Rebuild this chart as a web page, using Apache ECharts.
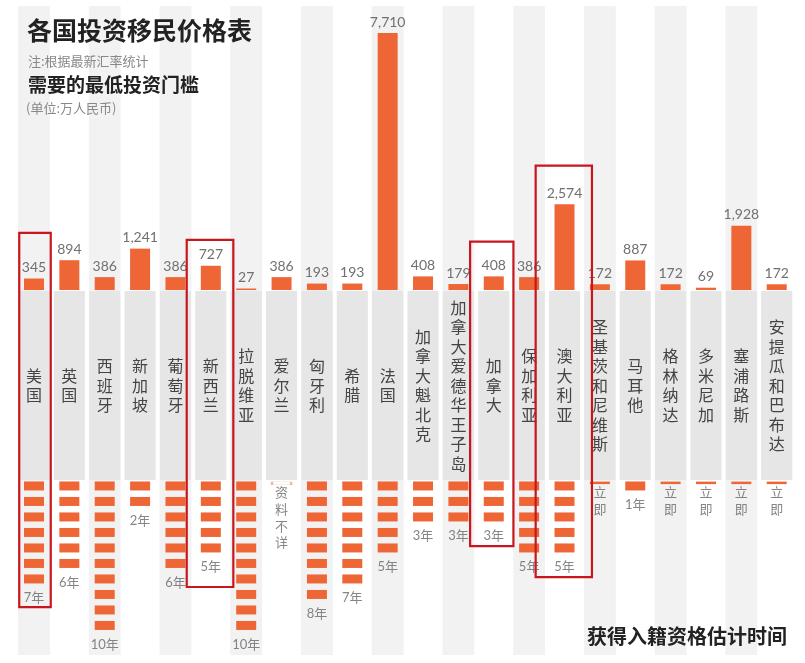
<!DOCTYPE html>
<html>
<head>
<meta charset="utf-8">
<script src="https://cdn.jsdelivr.net/npm/echarts@6/dist/echarts.min.js"></script>
<style>
html,body{margin:0;padding:0;background:#fff}
#main{width:805px;height:663px}
</style>
</head>
<body>
<div id="main"></div>
<script>
// 国家 / 最低投资门槛(万人民币) / 入籍年限(0=立即, null=资料不详)
var countries = ['美国','英国','西班牙','新加坡','葡萄牙','新西兰','拉脱维亚','爱尔兰','匈牙利','希腊','法国',
  '加拿大魁北克','加拿大爱德华王子岛','加拿大','保加利亚','澳大利亚','圣基茨和尼维斯','马耳他','格林纳达','多米尼加','塞浦路斯','安提瓜和巴布达'];
var investment = [345,894,386,1241,386,727,27,386,193,193,7710,408,179,408,386,2574,172,887,172,69,1928,172];
var years = [7,6,10,2,6,5,10,null,8,7,5,3,3,3,5,5,0,1,0,0,0,0];
var highlights = ['美国','新西兰','加拿大','澳大利亚'];

var ORANGE = '#ee6636';
var CJK = "'Noto Sans CJK SC', sans-serif";
var NUM = "Lato, 'Noto Sans CJK SC', sans-serif";
var YEAR_UNIT = 15.5;   // px per year in the lower grid
var YEAR_MAX = 11;

var chart = echarts.init(document.getElementById('main'));

function fmt(v) {
  return String(v).replace(/\B(?=(\d{3})+(?!\d))/g, ',');
}
function vertical(s) {
  return s.split('').join('\n');
}

// 背景条纹, 隔列
var stripeData = countries.map(function (c, i) { return i % 2 === 0 ? 1 : '-'; });

// 年限方块
var blockData = [];
var instantData = [];
var unknownData = [];
var yearLabelData = [];
years.forEach(function (y, i) {
  if (y === null) {
    unknownData.push([i, 0.15]);
    yearLabelData.push({ value: [i, 0.23 + 4 * 16.7 / 2 / YEAR_UNIT], txt: vertical('资料不详') });
  } else if (y === 0) {
    instantData.push([i, 0.12]);
    yearLabelData.push({ value: [i, 0.23 + 2 * 16.7 / 2 / YEAR_UNIT], txt: vertical('立即') });
  } else {
    for (var k = 0; k < y; k++) blockData.push([i, k + 0.32]);
    yearLabelData.push({ value: [i, y + 0.55], txt: y + '年' });
  }
});

var gridLeft = 16.3, gridRight = 10.6;
function catAxis(idx) {
  return { type: 'category', gridIndex: idx, data: countries, show: false };
}

var option = {
  animation: false,
  title: [
    { text: '各国投资移民价格表', left: 22, top: 13,
      textStyle: { fontFamily: CJK, fontSize: 25, fontWeight: 'bold', color: '#222' } },
    { text: '注:根据最新汇率统计', left: 23, top: 50,
      textStyle: { fontFamily: CJK, fontSize: 13, fontWeight: 'normal', color: '#888' } },
    { text: '需要的最低投资门槛', left: 23, top: 70,
      textStyle: { fontFamily: CJK, fontSize: 19, fontWeight: 'bold', color: '#222' } },
    { text: '(单位:万人民币)', left: 21, top: 97,
      textStyle: { fontFamily: CJK, fontSize: 13, fontWeight: 'normal', color: '#888' } },
    { text: '获得入籍资格估计时间', right: 13, top: 621,
      textStyle: { fontFamily: CJK, fontSize: 20, fontWeight: 'bold', color: '#222' } }
  ],
  grid: [
    { left: gridLeft, right: gridRight, top: 6, bottom: 8, outerBoundsMode: 'none' },
    { left: gridLeft, right: gridRight, top: 33, height: 257, outerBoundsMode: 'none' },
    { left: gridLeft, right: gridRight, top: 291, height: 189, outerBoundsMode: 'none' },
    { left: gridLeft, right: gridRight, top: 481, height: YEAR_UNIT * YEAR_MAX, outerBoundsMode: 'none' }
  ],
  xAxis: [catAxis(0), catAxis(1), catAxis(2), catAxis(3)],
  yAxis: [
    { type: 'value', gridIndex: 0, min: 0, max: 1, show: false },
    { type: 'value', gridIndex: 1, min: 0, max: 7710, show: false },
    { type: 'value', gridIndex: 2, min: 0, max: 1, show: false },
    { type: 'value', gridIndex: 3, min: 0, max: YEAR_MAX, inverse: true, show: false }
  ],
  series: [
    {
      type: 'bar', xAxisIndex: 0, yAxisIndex: 0, silent: true,
      data: stripeData, barWidth: '90%',
      itemStyle: { color: '#f2f2f2' }
    },
    {
      type: 'bar', xAxisIndex: 1, yAxisIndex: 1,
      data: investment, barWidth: 20, barMinHeight: 1.5,
      itemStyle: { color: ORANGE },
      label: {
        show: true, position: 'top', distance: 4,
        fontFamily: NUM, fontSize: 14, color: '#707070',
        formatter: function (p) { return fmt(p.value); }
      }
    },
    {
      type: 'bar', xAxisIndex: 2, yAxisIndex: 2, silent: true,
      data: countries.map(function () { return 1; }), barWidth: '88%',
      itemStyle: { color: '#e6e6e6' },
      label: {
        show: true, position: 'inside',
        fontFamily: CJK, fontSize: 16, lineHeight: 19.5, color: '#444',
        formatter: function (p) { return vertical(p.name); }
      }
    },
    {
      type: 'scatter', xAxisIndex: 3, yAxisIndex: 3,
      data: blockData, symbol: 'rect', symbolSize: [20, 9],
      itemStyle: { color: ORANGE, opacity: 1 }
    },
    {
      type: 'scatter', xAxisIndex: 3, yAxisIndex: 3,
      data: instantData, symbol: 'rect', symbolSize: [20, 2.5],
      itemStyle: { color: ORANGE, opacity: 1 }
    },
    {
      type: 'scatter', xAxisIndex: 3, yAxisIndex: 3,
      data: unknownData, symbol: 'rect', symbolSize: [19, 3],
      itemStyle: { color: '#fff', borderColor: '#f2b79e', borderWidth: 1, opacity: 1 }
    },
    {
      type: 'scatter', xAxisIndex: 3, yAxisIndex: 3, silent: true,
      data: yearLabelData, symbolSize: 1,
      itemStyle: { color: 'rgba(0,0,0,0)' },
      label: {
        show: true, position: 'inside',
        fontFamily: NUM, fontSize: 13, lineHeight: 16.7, color: '#666',
        formatter: function (p) { return p.data.txt; }
      }
    }
  ]
};
chart.setOption(option);

// 红框标注: 宽度/上下留白按原图手绘框
var boxStyle = {
  '美国': { w: 31.5, dx: 1, padTop: 45.6, padBottom: 9 },
  '新西兰': { w: 46.6, dx: -0.8, padTop: 25.8, padBottom: 20 },
  '加拿大': { w: 43.3, dx: -2, padTop: 34.7, padBottom: 10 },
  '澳大利亚': { w: 56.3, dx: -0.7, padTop: 38.5, padBottom: 10 }
};
var boxes = highlights.map(function (name) {
  var i = countries.indexOf(name);
  var s = boxStyle[name];
  var cx = chart.convertToPixel({ xAxisIndex: 1 }, name) + s.dx;
  var top = chart.convertToPixel({ yAxisIndex: 1 }, investment[i]) - s.padTop;
  var bottom = chart.convertToPixel({ yAxisIndex: 3 }, years[i] + 0.55) + s.padBottom;
  return {
    type: 'rect', silent: true, z: 100,
    shape: { x: cx - s.w / 2, y: top, width: s.w, height: bottom - top },
    style: { fill: 'none', stroke: '#c8161d', lineWidth: 2.2 }
  };
});
chart.setOption({ graphic: boxes });
</script>
</body>
</html>
